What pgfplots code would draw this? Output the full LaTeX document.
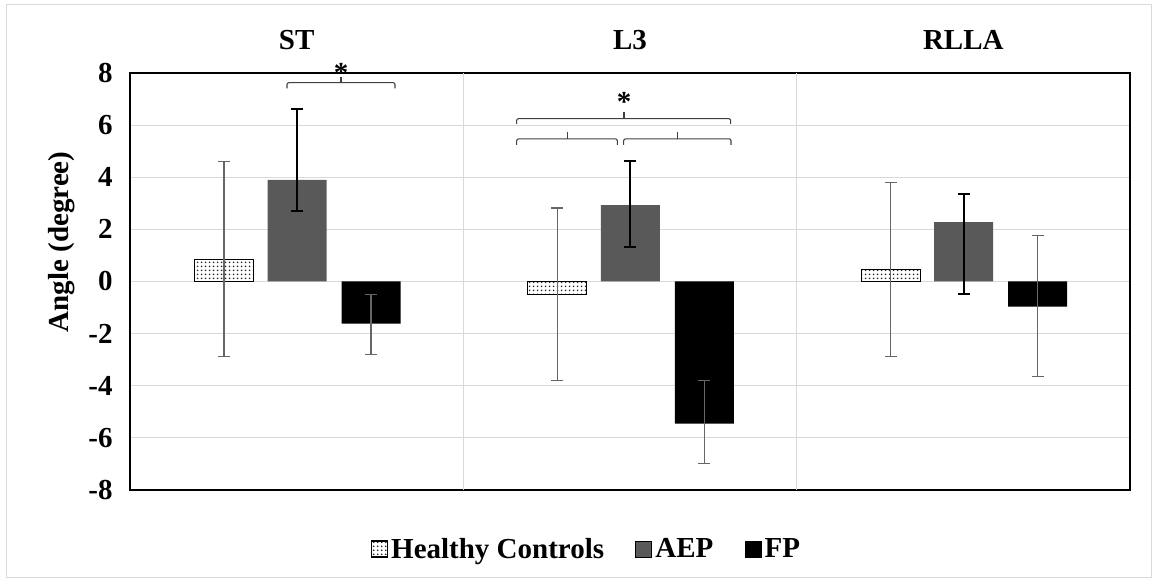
\documentclass[border=0pt]{standalone}
\usepackage{fontspec}
\setmainfont{Liberation Serif}
\usepackage{pgfplots}
\pgfplotsset{compat=1.18}
\usetikzlibrary{patterns}
\pgfdeclarepatternformonly{bigdots}{\pgfpointorigin}{\pgfpoint{3pt}{3pt}}{\pgfpoint{3pt}{3pt}}{%
  \pgfpathcircle{\pgfpoint{1.5pt}{1.5pt}}{0.8pt}\pgfusepath{fill}}
\definecolor{aep}{HTML}{595959}
\definecolor{gridc}{HTML}{D9D9D9}
\definecolor{errg}{HTML}{666666}
\definecolor{brk}{HTML}{404040}
\begin{document}
\begin{tikzpicture}
\path (0,0) rectangle (868.5pt,438pt);
\draw[gridc, line width=0.75pt] (4.5pt,4.5pt) rectangle (863.25pt,434.25pt);
\begin{axis}[
  at={(97.5pt,70.5pt)}, anchor=south west,
  scale only axis, width=750pt, height=312.75pt,
  xmin=-0.5, xmax=2.5, ymin=-8, ymax=8,
  ytick={-8,-6,...,8}, yticklabels={-8,-6,-4,-2,0,2,4,6,8},
  xtick={0,1,2}, xticklabels={ST,L3,RLLA}, xticklabel pos=upper,
  xticklabel style={anchor=center, yshift=24.75pt},
  yticklabel style={xshift=-9.5pt},
  extra x ticks={0.5,1.5}, extra x tick labels={}, extra x tick style={grid=major},
  major tick length=0pt,
  ymajorgrids, grid style={gridc, line width=0.9pt},
  axis line style={black, line width=1.2pt},
  font=\bfseries\fontsize{21.75}{26}\selectfont,
  ylabel={Angle (degree)},
  ylabel style={at={(axis description cs:-0.068,0.595)}, anchor=center},
  clip=false,
  legend image code/.code={\draw[#1] (0pt,-6pt) rectangle (12pt,6pt);},
  legend style={at={(axis description cs:0.457,-0.1415)}, anchor=center, draw=none, fill=none,
    legend columns=3, inner sep=0pt,
    nodes={inner sep=2.5pt},
    /tikz/every even column/.append style={column sep=21pt}},
]
\addplot[ybar, bar width=0.177, bar shift=0pt, draw=black, line width=0.9pt, fill=white,
  postaction={pattern=bigdots, pattern color=black!85},
  error bars/.cd, y dir=both, y explicit,
  error bar style={errg, line width=0.9pt},
  error mark options={rotate=90, mark size=4.5pt, errg, line width=0.9pt}]
coordinates {
 (-0.218,0.85) += (0,3.75) -= (0,3.73)
 (0.782,-0.50) += (0,3.32) -= (0,3.30)
 (1.782,0.45) += (0,3.35) -= (0,3.33)
};
\addlegendentry{Healthy Controls}
\addplot[ybar, bar width=0.177, bar shift=0pt, draw=none, fill=aep,
  error bars/.cd, y dir=both, y explicit,
  error bar style={black, line width=1.5pt},
  error mark options={rotate=90, mark size=4.5pt, black, line width=1.5pt}]
coordinates {
 (0.001,3.90) += (0,2.70) -= (0,1.18)
 (1.001,2.93) += (0,1.70) -= (0,1.61)
 (2.001,2.28) += (0,1.09) -= (0,2.75)
};
\addlegendentry{AEP}
\addplot[ybar, bar width=0.177, bar shift=0pt, draw=none, fill=black,
  error bars/.cd, y dir=both, y explicit,
  error bar style={errg, line width=0.9pt},
  error mark options={rotate=90, mark size=4.5pt, errg, line width=0.9pt}]
coordinates {
 (0.223,-1.62) += (0,1.12) -= (0,1.18)
 (1.223,-5.45) += (0,1.65) -= (0,1.53)
 (2.223,-0.96) += (0,2.74) -= (0,2.70)
};
\addlegendentry{FP}
% significance brackets
\draw[brk, line width=0.8pt, rounded corners=1.5pt] (axis cs:-0.029,7.41) -- (axis cs:-0.029,7.63) -- (axis cs:0.295,7.63) -- (axis cs:0.295,7.41);
\draw[brk, line width=0.8pt] (axis cs:0.133,7.63) -- (axis cs:0.133,7.83);
\node[anchor=center] at (axis cs:0.133,8.0) {*};
\draw[brk, line width=0.8pt, rounded corners=1.5pt] (axis cs:0.660,6.05) -- (axis cs:0.660,6.25) -- (axis cs:1.302,6.25) -- (axis cs:1.302,6.05);
\draw[brk, line width=0.8pt] (axis cs:0.982,6.25) -- (axis cs:0.982,6.5);
\node[anchor=center] at (axis cs:0.982,6.89) {*};
\draw[brk, line width=0.8pt, rounded corners=1.5pt] (axis cs:0.660,5.245) -- (axis cs:0.660,5.475) -- (axis cs:0.962,5.475) -- (axis cs:0.962,5.245);
\draw[brk, line width=0.8pt] (axis cs:0.812,5.475) -- (axis cs:0.812,5.74);
\draw[brk, line width=0.8pt, rounded corners=1.5pt] (axis cs:0.981,5.245) -- (axis cs:0.981,5.475) -- (axis cs:1.303,5.475) -- (axis cs:1.303,5.245);
\draw[brk, line width=0.8pt] (axis cs:1.143,5.475) -- (axis cs:1.143,5.74);
\end{axis}
\end{tikzpicture}
\end{document}
